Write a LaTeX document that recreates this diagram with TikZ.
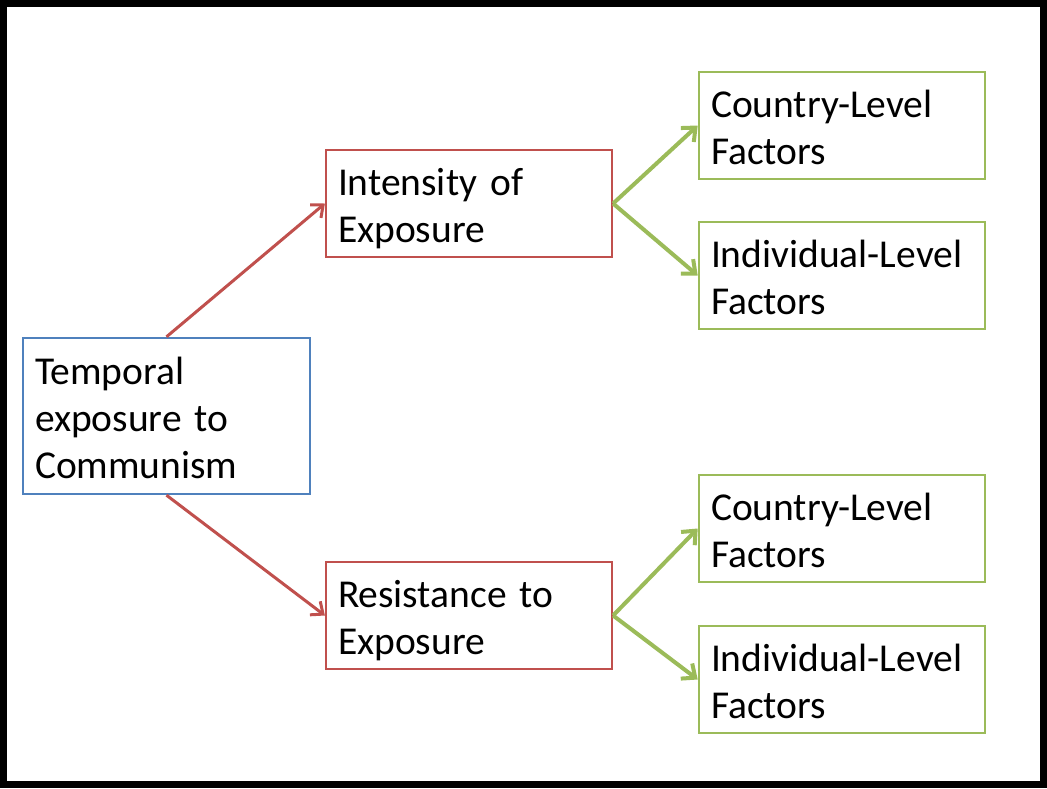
\documentclass[tikz,border=0pt]{standalone}
\usepackage{fontspec}
\setmainfont{Carlito}
\usetikzlibrary{arrows.meta}
\definecolor{boxblue}{HTML}{4F81BD}
\definecolor{boxred}{HTML}{C0504D}
\definecolor{boxgreen}{HTML}{9BBB59}
\begin{document}
\begin{tikzpicture}[x=1pt,y=-1pt,
  every node/.style={font=\fontsize{39.5}{47}\selectfont, align=left, inner xsep=11pt, inner ysep=0pt,
    execute at begin node={\rule{0pt}{42pt}}, execute at end node={\rule[-12pt]{0pt}{12pt}}},
  bluebox/.style={draw=boxblue, line width=2.4pt, minimum width=287pt, minimum height=156pt, text width=263pt},
  redbox/.style={draw=boxred, line width=2.2pt, minimum width=286pt, minimum height=107pt, text width=262pt},
  greenbox/.style={draw=boxgreen, line width=2.6pt, minimum width=286pt, minimum height=107pt, text width=262pt},
  redarrow/.style={draw=boxred, line width=3pt, -{Straight Barb[length=10pt,width=17pt,line width=3pt]}},
  greenarrow/.style={draw=boxgreen, line width=4pt, -{Straight Barb[length=11pt,width=19pt,line width=4pt]}}]
\useasboundingbox (0,0) rectangle (1047,788);
\draw[line width=7pt] (3.5,3.5) rectangle (1043.5,784.5);
\node[bluebox] (temp) at (166.5,416) {Temporal\\exposure to\\Communism};
\node[redbox] (inten) at (469,203.5) {Intensity of\\Exposure};
\node[redbox] (resis) at (469,615.5) {Resistance to\\Exposure};
\node[greenbox] (c1) at (842,125.5) {Country-Level\\Factors};
\node[greenbox] (i1) at (842,275.5) {Individual-Level\\Factors};
\node[greenbox] (c2) at (842,528.5) {Country-Level\\Factors};
\node[greenbox] (i2) at (842,679.5) {Individual-Level\\Factors};
\draw[redarrow] (temp.north) -- (inten.west);
\draw[redarrow] (temp.south) -- (resis.west);
\draw[greenarrow] (inten.east) -- (c1.west);
\draw[greenarrow] (inten.east) -- (i1.west);
\draw[greenarrow] (resis.east) -- (c2.west);
\draw[greenarrow] (resis.east) -- (i2.west);
\end{tikzpicture}
\end{document}
